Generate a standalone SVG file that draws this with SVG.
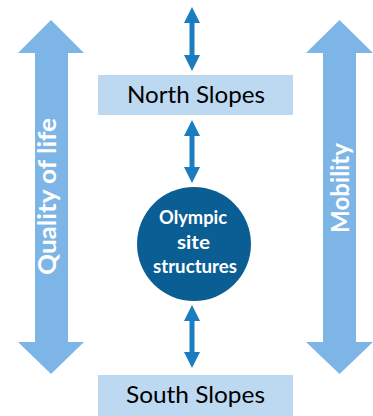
<svg xmlns="http://www.w3.org/2000/svg" width="373" height="416" viewBox="0 0 373 416">
<style>
.big{fill:#7DB6E6}
.box{fill:#BDD8F1}
.con{fill:#1A7DC0}
.lbl{font-family:Lato,"Open Sans",sans-serif;font-size:24px;fill:#000;text-anchor:middle}
.side{font-family:Lato,"Open Sans",sans-serif;font-size:24px;font-weight:bold;fill:#fff;text-anchor:middle}
.cir{font-family:Lato,"Open Sans",sans-serif;font-size:19px;font-weight:bold;fill:#fff;text-anchor:middle}
</style>
<rect width="373" height="416" fill="#fff"/>
<g id="quality-of-life">
<polygon class="big" points="51,20 84,53 68,53 68,342 84,342 51,374 18,342 35,342 35,53 18,53"/>
<text class="side" transform="translate(56,196.5) rotate(-90)" textLength="157" lengthAdjust="spacingAndGlyphs">Quality of life</text>
</g>
<g id="mobility">
<polygon class="big" points="339.5,20 373,53 356,53 356,342 373,342 339.5,374 306,342 323,342 323,53 306,53"/>
<text class="side" transform="translate(349,188) rotate(-90)" textLength="90" lengthAdjust="spacingAndGlyphs">Mobility</text>
</g>
<g id="north-slopes">
<rect class="box" x="98" y="75" width="195" height="40"/>
<text class="lbl" x="196" y="103" textLength="138" lengthAdjust="spacingAndGlyphs">North Slopes</text>
</g>
<g id="olympic-site">
<circle cx="194" cy="244" r="57" fill="#0B5E93"/>
<text class="cir" x="193" y="224" textLength="68" lengthAdjust="spacingAndGlyphs">Olympic</text>
<text class="cir" x="193.5" y="249" textLength="33" lengthAdjust="spacingAndGlyphs">site</text>
<text class="cir" x="195" y="273" textLength="84" lengthAdjust="spacingAndGlyphs">structures</text>
</g>
<g id="south-slopes">
<rect class="box" x="98" y="375" width="195" height="41"/>
<text class="lbl" x="195.5" y="403" textLength="139" lengthAdjust="spacingAndGlyphs">South Slopes</text>
</g>
<g id="connectors">
<polygon class="con" points="192,7 200,23 194.5,23 194.5,55 200,55 192,71 184,55 189.5,55 189.5,23 184,23"/>
<polygon class="con" points="192,120 200,136 194.5,136 194.5,167 200,167 192,183 184,167 189.5,167 189.5,136 184,136"/>
<polygon class="con" points="192,305 200,321 194.5,321 194.5,352 200,352 192,368 184,352 189.5,352 189.5,321 184,321"/>
</g>
</svg>
